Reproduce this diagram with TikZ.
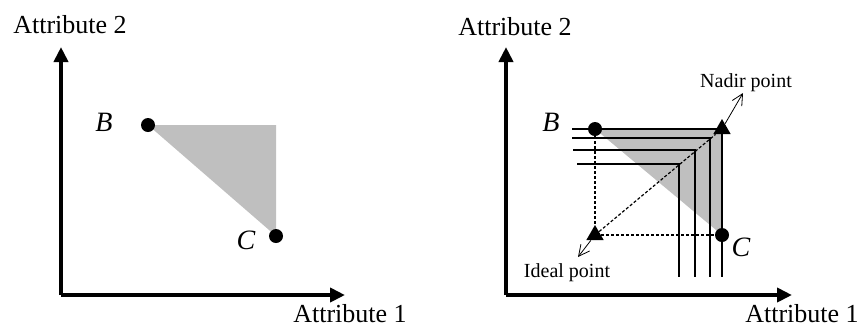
\documentclass[tikz,border=0pt]{standalone}
\usepackage{fontspec}
\setmainfont{Liberation Serif}
\usetikzlibrary{positioning,arrows.meta,shapes.geometric,backgrounds}

\begin{document}
\begin{tikzpicture}[x=0.5pt,y=-0.5pt,
	dot/.style={circle, fill, inner sep=0pt, minimum size=7pt},
	tri/.style={regular polygon, regular polygon sides=3, fill, inner sep=0pt, minimum size=10pt},
	axis/.style={line width=2pt, -{Triangle[length=7.5pt,width=7pt]}},
	front/.style={line width=1pt},
	guide/.style={line width=0.6pt, dash pattern=on 1.5pt off 1pt},
	pointer/.style={line width=0.4pt, -{Straight Barb[length=5.5pt,width=5.5pt]}},
	axlabel/.style={font=\fontsize{13}{15}\selectfont},
	ptlabel/.style={font=\fontsize{14}{16}\selectfont\itshape},
	small/.style={font=\fontsize{10}{12}\selectfont}]
	\useasboundingbox (0,0) rectangle (862,329);
	
	% left: B and C
	\coordinate (o1) at (61,295);
	\coordinate (y1) at (61,47);
	\coordinate (x1) at (345,295);
	\draw[axis] (o1)--(y1);
	\draw[axis] (o1)--(x1);
	\node (ya1) at (70,25) [axlabel] {Attribute 2};
	\node (xa1) at (350,314) [axlabel] {Attribute 1};
	\node (b1) at (148,125) [dot] {};
	\node (c1) at (276,236) [dot] {};
	\begin{scope}[on background layer]
		\fill[gray!50] (b1.center)--(c1.center |- b1.center)--(c1.center)--cycle;
	\end{scope}
	\node (bl1) at (104,122) [ptlabel] {B};
	\node (cl1) at (246,240) [ptlabel] {C};
	
	% right: ideal and nadir point
	\coordinate (o2) at (506,295);
	\coordinate (y2) at (506,47);
	\coordinate (x2) at (792,295);
	\draw[axis] (o2)--(y2);
	\draw[axis] (o2)--(x2);
	\node (ya2) at (515,27) [axlabel] {Attribute 2};
	\node (xa2) at (802,314) [axlabel] {Attribute 1};
	\node (b2) at (595,129) [dot] {};
	\node (n) at (722,129) [tri] {};
	\node (i) at (595,235) [tri] {};
	\node (c2) at (722,235) [dot] {};
	\begin{scope}[on background layer]
		\fill[gray!50] (b2.center)--(n.center)--(c2.center)--cycle;
	\end{scope}
	\draw[front] (572,129)--(n.center)--(722,277);
	\foreach \xs/\yy/\xc in {572/138/710, 573/150/695, 577/164/679}
		\draw[front] (\xs,\yy) -| (\xc,277);
	\draw[guide] (b2)--(i);
	\draw[guide] (i)--(c2);
	\draw[guide] (i)--(n);
	\coordinate (na) at (743,93);
	\coordinate (ia) at (578,257);
	\draw[pointer] (n)--(na);
	\draw[pointer] (i)--(ia);
	\node (nl) at (746,83) [small] {Nadir point};
	\node (il) at (567,273) [small] {Ideal point};
	\node (bl2) at (551,122) [ptlabel] {B};
	\node (cl2) at (741,247) [ptlabel] {C};
\end{tikzpicture}
\end{document}
